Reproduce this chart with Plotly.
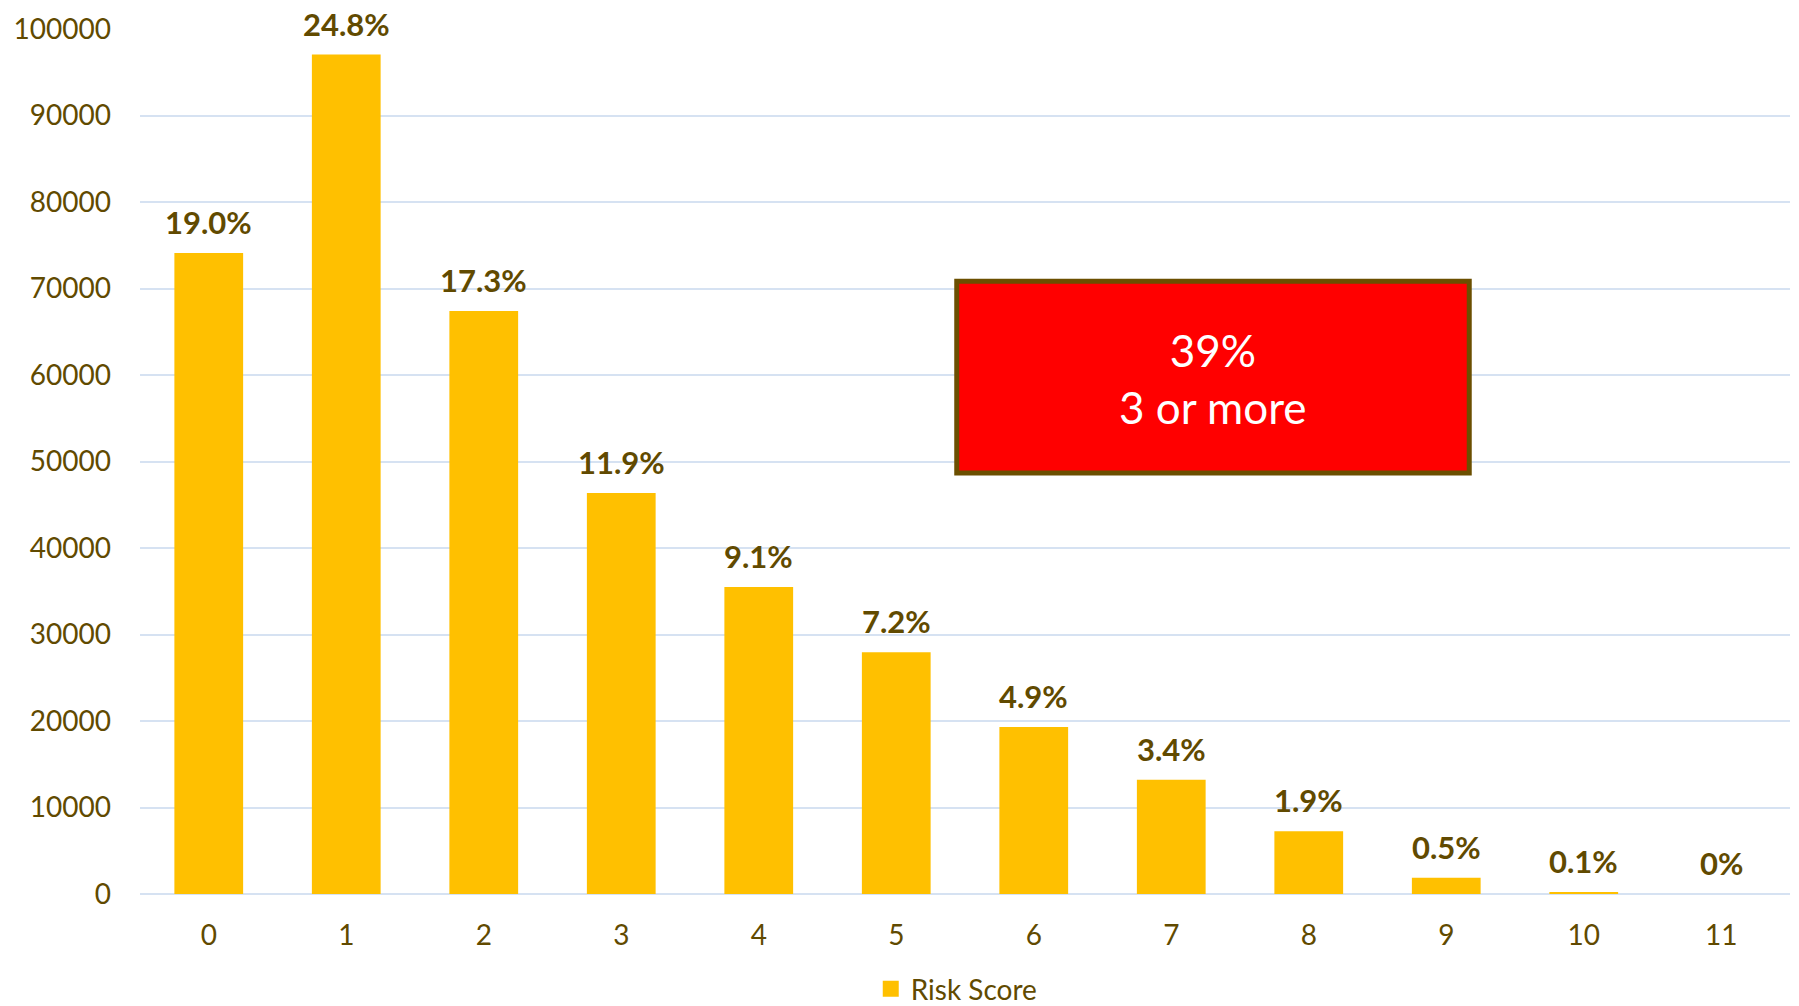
import plotly.graph_objects as go

categories = ["0", "1", "2", "3", "4", "5", "6", "7", "8", "9", "10", "11"]
counts = [74100, 97050, 67400, 46350, 35500, 27950, 19300, 13200, 7250, 1870, 210, 0]
pct_labels = ["19.0%", "24.8%", "17.3%", "11.9%", "9.1%", "7.2%", "4.9%", "3.4%", "1.9%", "0.5%", "0.1%", "0%"]
series_name = "Risk Score"
box_text = "39%<br>3 or more"
y_ticks = [0, 10000, 20000, 30000, 40000, 50000, 60000, 70000, 80000, 90000, 100000]

TXT = "#614A00"
BAR = "#FFC000"
FONT = "Lato, Carlito, Calibri, sans-serif"

fig = go.Figure()
fig.add_trace(go.Bar(
    x=categories, y=counts, name=series_name,
    marker=dict(color=BAR, line=dict(width=0)),
    showlegend=False,
))
# legend entry with a larger square swatch
fig.add_trace(go.Scatter(
    x=[None], y=[None], mode="markers", name=series_name,
    marker=dict(symbol="square", size=17, color=BAR),
    showlegend=True,
))

for c, v, t in zip(categories, counts, pct_labels):
    fig.add_annotation(x=c, y=v, text=f"<b>{t}</b>", showarrow=False,
                       yanchor="middle", yshift=31,
                       font=dict(family=FONT, size=31, color=TXT))

fig.add_shape(type="rect", xref="paper", yref="paper",
              x0=0.4950, x1=0.8056, y0=0.4868, y1=0.7083,
              fillcolor="#FF0000", line=dict(color="#6B4F00", width=5), layer="above")
fig.add_annotation(xref="paper", yref="paper", x=0.6503, y=0.5956,
                   text=box_text, showarrow=False, align="center",
                   xanchor="center", yanchor="middle",
                   font=dict(family=FONT, size=44, color="#FFFFFF"))

fig.update_layout(
    width=1791, height=998,
    margin=dict(l=132, r=9, t=21, b=111.5, autoexpand=False),
    paper_bgcolor="white", plot_bgcolor="white",
    bargap=0.5,
    font=dict(family=FONT, color=TXT, size=28),
    legend=dict(orientation="h", x=0.495, xanchor="center",
                yref="container", y=0.017, yanchor="middle",
                font=dict(family=FONT, size=28, color=TXT), itemsizing="trace"),
    xaxis=dict(type="category", showgrid=False, zeroline=False, showline=False,
               automargin=False, ticks="", ticklabelstandoff=22,
               tickfont=dict(family=FONT, size=28, color=TXT)),
    yaxis=dict(range=[0, 100000], tickvals=y_ticks, tickformat="d",
               showgrid=True, gridcolor="#D6E2F2",
               gridwidth=2, zeroline=True, zerolinecolor="#D6E2F2", zerolinewidth=2,
               showline=False, ticks="", ticklabelstandoff=28, automargin=False,
               tickfont=dict(family=FONT, size=28, color=TXT)),
)

fig.write_html("out.html")
